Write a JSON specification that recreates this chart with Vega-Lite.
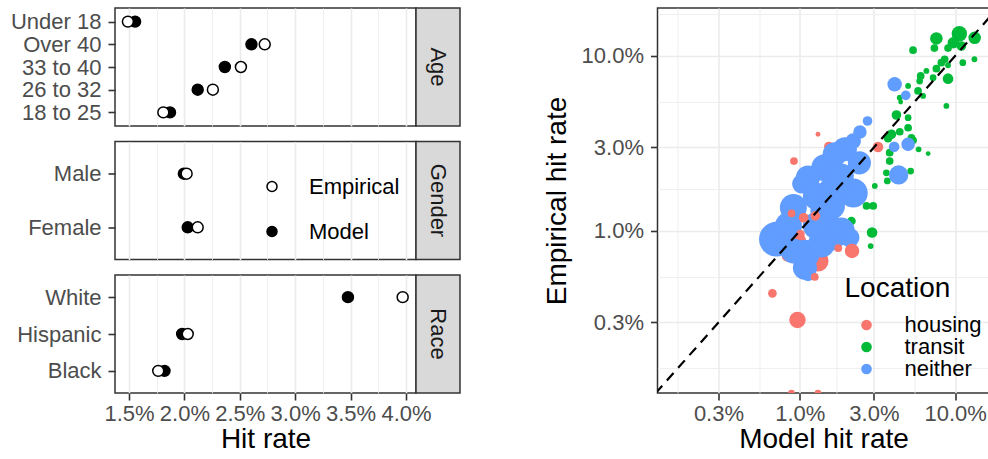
{
  "$schema": "https://vega.github.io/schema/vega-lite/v6.json",
  "background": "white",
  "padding": {"left": 0, "top": 7, "right": 0, "bottom": 0},
  "config": {
    "font": "Liberation Sans",
    "view": {"stroke": "#333333", "strokeWidth": 1.5},
    "axis": {
      "labelFontSize": 22,
      "labelColor": "#4D4D4D",
      "titleFontSize": 28,
      "titleFontWeight": "normal",
      "titleColor": "black",
      "tickColor": "#333333",
      "tickWidth": 1.6,
      "tickSize": 7,
      "gridColor": "#EBEBEB",
      "domain": false,
      "labelFlush": false,
      "labelOverlap": false
    },
    "legend": {
      "labelFontSize": 22,
      "labelColor": "black",
      "titleFontSize": 28,
      "titleFontWeight": "normal",
      "titleColor": "black",
      "padding": 0
    }
  },
  "datasets": {
    "demog": [
      {"group": "Age", "category": "Under 18", "type": "Model", "rate": 0.01555},
      {"group": "Age", "category": "Over 40", "type": "Model", "rate": 0.02605},
      {"group": "Age", "category": "33 to 40", "type": "Model", "rate": 0.02365},
      {"group": "Age", "category": "26 to 32", "type": "Model", "rate": 0.0212},
      {"group": "Age", "category": "18 to 25", "type": "Model", "rate": 0.0187},
      {"group": "Gender", "category": "Male", "type": "Model", "rate": 0.01995},
      {"group": "Gender", "category": "Female", "type": "Model", "rate": 0.0203},
      {"group": "Race", "category": "White", "type": "Model", "rate": 0.03476},
      {"group": "Race", "category": "Hispanic", "type": "Model", "rate": 0.0198},
      {"group": "Race", "category": "Black", "type": "Model", "rate": 0.0182},
      {"group": "Age", "category": "Under 18", "type": "Empirical", "rate": 0.0149},
      {"group": "Age", "category": "Over 40", "type": "Empirical", "rate": 0.02725},
      {"group": "Age", "category": "33 to 40", "type": "Empirical", "rate": 0.0251},
      {"group": "Age", "category": "26 to 32", "type": "Empirical", "rate": 0.02257},
      {"group": "Age", "category": "18 to 25", "type": "Empirical", "rate": 0.0181},
      {"group": "Gender", "category": "Male", "type": "Empirical", "rate": 0.0202},
      {"group": "Gender", "category": "Female", "type": "Empirical", "rate": 0.0212},
      {"group": "Race", "category": "White", "type": "Empirical", "rate": 0.0397},
      {"group": "Race", "category": "Hispanic", "type": "Empirical", "rate": 0.0203},
      {"group": "Race", "category": "Black", "type": "Empirical", "rate": 0.01764}
    ],
    "precincts": [
      {"location": "transit", "model": 0.1064, "empirical": 0.134, "stops": 256},
      {"location": "transit", "model": 0.1335, "empirical": 0.127, "stops": 169},
      {"location": "transit", "model": 0.0973, "empirical": 0.119, "stops": 144},
      {"location": "transit", "model": 0.1096, "empirical": 0.114, "stops": 100},
      {"location": "transit", "model": 0.0757, "empirical": 0.126, "stops": 169},
      {"location": "transit", "model": 0.0735, "empirical": 0.111, "stops": 64},
      {"location": "transit", "model": 0.0536, "empirical": 0.108, "stops": 64},
      {"location": "transit", "model": 0.090, "empirical": 0.111, "stops": 64},
      {"location": "transit", "model": 0.133, "empirical": 0.0958, "stops": 36},
      {"location": "transit", "model": 0.112, "empirical": 0.0916, "stops": 49},
      {"location": "transit", "model": 0.0856, "empirical": 0.0958, "stops": 64},
      {"location": "transit", "model": 0.0815, "empirical": 0.0916, "stops": 64},
      {"location": "transit", "model": 0.090, "empirical": 0.0885, "stops": 36},
      {"location": "transit", "model": 0.0757, "empirical": 0.0846, "stops": 64},
      {"location": "transit", "model": 0.0653, "empirical": 0.0821, "stops": 36},
      {"location": "transit", "model": 0.0721, "empirical": 0.0752, "stops": 49},
      {"location": "transit", "model": 0.090, "empirical": 0.0742, "stops": 121},
      {"location": "transit", "model": 0.060, "empirical": 0.0769, "stops": 64},
      {"location": "transit", "model": 0.0591, "empirical": 0.0719, "stops": 49},
      {"location": "transit", "model": 0.0498, "empirical": 0.0674, "stops": 36},
      {"location": "transit", "model": 0.0577, "empirical": 0.0631, "stops": 64},
      {"location": "transit", "model": 0.0622, "empirical": 0.0591, "stops": 36},
      {"location": "transit", "model": 0.044, "empirical": 0.0578, "stops": 36},
      {"location": "transit", "model": 0.0878, "empirical": 0.0518, "stops": 36},
      {"location": "transit", "model": 0.0419, "empirical": 0.046, "stops": 100},
      {"location": "transit", "model": 0.0446, "empirical": 0.0546, "stops": 25},
      {"location": "transit", "model": 0.0498, "empirical": 0.0444, "stops": 49},
      {"location": "transit", "model": 0.0498, "empirical": 0.0389, "stops": 64},
      {"location": "transit", "model": 0.044, "empirical": 0.0369, "stops": 64},
      {"location": "transit", "model": 0.0389, "empirical": 0.0357, "stops": 100},
      {"location": "transit", "model": 0.037, "empirical": 0.0339, "stops": 81},
      {"location": "transit", "model": 0.0523, "empirical": 0.0341, "stops": 64},
      {"location": "transit", "model": 0.0486, "empirical": 0.0309, "stops": 64},
      {"location": "transit", "model": 0.0536, "empirical": 0.033, "stops": 64},
      {"location": "transit", "model": 0.0582, "empirical": 0.0293, "stops": 36},
      {"location": "transit", "model": 0.067, "empirical": 0.0277, "stops": 25},
      {"location": "transit", "model": 0.0379, "empirical": 0.028, "stops": 64},
      {"location": "transit", "model": 0.0379, "empirical": 0.0251, "stops": 64},
      {"location": "transit", "model": 0.0517, "empirical": 0.022, "stops": 49},
      {"location": "transit", "model": 0.0361, "empirical": 0.0215, "stops": 49},
      {"location": "transit", "model": 0.0366, "empirical": 0.0193, "stops": 49},
      {"location": "transit", "model": 0.0304, "empirical": 0.0181, "stops": 36},
      {"location": "transit", "model": 0.0269, "empirical": 0.0139, "stops": 64},
      {"location": "transit", "model": 0.0297, "empirical": 0.0139, "stops": 64},
      {"location": "transit", "model": 0.0292, "empirical": 0.0098, "stops": 121},
      {"location": "transit", "model": 0.0286, "empirical": 0.0082, "stops": 36},
      {"location": "transit", "model": 0.0215, "empirical": 0.0114, "stops": 81},
      {"location": "housing", "model": 0.0154, "empirical": 0.0304, "stops": 100},
      {"location": "housing", "model": 0.0131, "empirical": 0.00674, "stops": 484},
      {"location": "housing", "model": 0.00834, "empirical": 0.0072, "stops": 144},
      {"location": "housing", "model": 0.00981, "empirical": 0.00877, "stops": 256},
      {"location": "neither", "model": 0.0408, "empirical": 0.0689, "stops": 225},
      {"location": "neither", "model": 0.0481, "empirical": 0.0596, "stops": 100},
      {"location": "neither", "model": 0.0273, "empirical": 0.0425, "stops": 100},
      {"location": "neither", "model": 0.0405, "empirical": 0.0303, "stops": 121},
      {"location": "neither", "model": 0.0498, "empirical": 0.0313, "stops": 196},
      {"location": "neither", "model": 0.0433, "empirical": 0.0209, "stops": 400},
      {"location": "neither", "model": 0.0244, "empirical": 0.0368, "stops": 196},
      {"location": "neither", "model": 0.0221, "empirical": 0.0327, "stops": 256},
      {"location": "neither", "model": 0.0195, "empirical": 0.0293, "stops": 625},
      {"location": "neither", "model": 0.0242, "empirical": 0.0245, "stops": 576},
      {"location": "neither", "model": 0.0145, "empirical": 0.023, "stops": 784},
      {"location": "neither", "model": 0.0113, "empirical": 0.0202, "stops": 625},
      {"location": "neither", "model": 0.0103, "empirical": 0.0186, "stops": 400},
      {"location": "neither", "model": 0.0221, "empirical": 0.0165, "stops": 900},
      {"location": "neither", "model": 0.0091, "empirical": 0.0136, "stops": 784},
      {"location": "neither", "model": 0.0145, "empirical": 0.013, "stops": 900},
      {"location": "neither", "model": 0.0185, "empirical": 0.010, "stops": 784},
      {"location": "neither", "model": 0.00708, "empirical": 0.00897, "stops": 1296},
      {"location": "neither", "model": 0.0108, "empirical": 0.00736, "stops": 900},
      {"location": "neither", "model": 0.0108, "empirical": 0.00617, "stops": 625},
      {"location": "neither", "model": 0.016, "empirical": 0.00936, "stops": 900},
      {"location": "neither", "model": 0.0113, "empirical": 0.00568, "stops": 225},
      {"location": "neither", "model": 0.0128, "empirical": 0.0158, "stops": 784},
      {"location": "neither", "model": 0.0172, "empirical": 0.0206, "stops": 676},
      {"location": "neither", "model": 0.00846, "empirical": 0.0107, "stops": 784},
      {"location": "neither", "model": 0.0138, "empirical": 0.00843, "stops": 784},
      {"location": "neither", "model": 0.021, "empirical": 0.00916, "stops": 400},
      {"location": "neither", "model": 0.0168, "empirical": 0.0274, "stops": 625},
      {"location": "neither", "model": 0.016, "empirical": 0.0169, "stops": 784},
      {"location": "neither", "model": 0.0185, "empirical": 0.0206, "stops": 676},
      {"location": "neither", "model": 0.0128, "empirical": 0.0107, "stops": 784},
      {"location": "neither", "model": 0.016, "empirical": 0.0139, "stops": 784},
      {"location": "neither", "model": 0.0091, "empirical": 0.00769, "stops": 676},
      {"location": "housing", "model": 0.0131, "empirical": 0.0357, "stops": 25},
      {"location": "housing", "model": 0.00918, "empirical": 0.0251, "stops": 64},
      {"location": "housing", "model": 0.0319, "empirical": 0.0302, "stops": 121},
      {"location": "housing", "model": 0.00885, "empirical": 0.0126, "stops": 64},
      {"location": "housing", "model": 0.0106, "empirical": 0.0119, "stops": 100},
      {"location": "housing", "model": 0.0126, "empirical": 0.0122, "stops": 100},
      {"location": "housing", "model": 0.0101, "empirical": 0.00961, "stops": 81},
      {"location": "housing", "model": 0.0177, "empirical": 0.00797, "stops": 64},
      {"location": "housing", "model": 0.0217, "empirical": 0.00769, "stops": 225},
      {"location": "housing", "model": 0.0125, "empirical": 0.00546, "stops": 64},
      {"location": "housing", "model": 0.00667, "empirical": 0.0044, "stops": 81},
      {"location": "housing", "model": 0.00967, "empirical": 0.0031, "stops": 289},
      {"location": "housing", "model": 0.00885, "empirical": 0.001186, "stops": 49},
      {"location": "housing", "model": 0.0131, "empirical": 0.001186, "stops": 49}
    ],
    "diagonal": [{"v": 0.001}, {"v": 0.2}]
  },
  "hconcat": [
    {
      "vconcat": [
        {
          "hconcat": [
            {
              "width": 301,
              "height": 118,
              "data": {"name": "demog"},
              "transform": [{"filter": "datum.group === 'Age'"}],
              "mark": {"type": "point", "filled": true, "size": 120, "stroke": "black", "strokeWidth": 1.5, "opacity": 1},
              "encoding": {
                "x": {
                  "field": "rate", "type": "quantitative",
                  "scale": {"domain": [0.013736, 0.040903], "nice": false, "zero": false},
                  "axis": {
                    "title": null, "labels": false, "ticks": false,
                    "values": [0.015, 0.0175, 0.02, 0.0225, 0.025, 0.0275, 0.03, 0.0325, 0.035, 0.0375, 0.04],
                    "gridWidth": {"condition": {"test": "abs(datum.value*200 - round(datum.value*200)) < 0.01", "value": 1.6}, "value": 0.8}
                  }
                },
                "y": {
                  "field": "category", "type": "nominal",
                  "scale": {"type": "point", "padding": 0.6, "domain": ["Under 18", "Over 40", "33 to 40", "26 to 32", "18 to 25"]},
                  "axis": {"title": null, "minExtent": 114, "maxExtent": 114, "labelPadding": 7, "gridWidth": 1.6}
                },
                "fill": {
                  "field": "type", "type": "nominal",
                  "scale": {"domain": ["Empirical", "Model"], "range": ["white", "black"]},
                  "legend": null
                }
              }
            },
            {
              "width": 44,
              "height": 118,
              "view": {"fill": "#D9D9D9", "stroke": "#333333", "strokeWidth": 1.5},
              "data": {"values": [{"label": "Age"}]},
              "mark": {"type": "text", "angle": 90, "fontSize": 22, "color": "#1A1A1A"},
              "encoding": {"text": {"field": "label", "type": "nominal"}}
            }
          ],
          "spacing": 0,
          "bounds": "flush",
          "resolve": {"scale": {"fill": "independent"}, "legend": {"fill": "independent"}}
        },
        {
          "hconcat": [
            {
              "width": 301,
              "height": 118,
              "data": {"name": "demog"},
              "transform": [{"filter": "datum.group === 'Gender'"}],
              "mark": {"type": "point", "filled": true, "size": 120, "stroke": "black", "strokeWidth": 1.5, "opacity": 1},
              "encoding": {
                "x": {
                  "field": "rate", "type": "quantitative",
                  "scale": {"domain": [0.013736, 0.040903], "nice": false, "zero": false},
                  "axis": {
                    "title": null, "labels": false, "ticks": false,
                    "values": [0.015, 0.0175, 0.02, 0.0225, 0.025, 0.0275, 0.03, 0.0325, 0.035, 0.0375, 0.04],
                    "gridWidth": {"condition": {"test": "abs(datum.value*200 - round(datum.value*200)) < 0.01", "value": 1.6}, "value": 0.8}
                  }
                },
                "y": {
                  "field": "category", "type": "nominal",
                  "scale": {"type": "point", "padding": 0.6, "domain": ["Male", "Female"]},
                  "axis": {"title": null, "minExtent": 114, "maxExtent": 114, "labelPadding": 7, "gridWidth": 1.6}
                },
                "fill": {
                  "field": "type", "type": "nominal",
                  "scale": {"domain": ["Empirical", "Model"], "range": ["white", "black"]},
                  "legend": {
                    "title": null, "orient": "none", "legendX": 146, "legendY": 34,
                    "direction": "vertical",
                    "symbolType": "circle", "symbolSize": 100,
                    "symbolStrokeColor": "black", "symbolStrokeWidth": 1.5,
                    "labelOffset": 26, "rowPadding": 23
                  }
                }
              }
            },
            {
              "width": 44,
              "height": 118,
              "view": {"fill": "#D9D9D9", "stroke": "#333333", "strokeWidth": 1.5},
              "data": {"values": [{"label": "Gender"}]},
              "mark": {"type": "text", "angle": 90, "fontSize": 22, "color": "#1A1A1A"},
              "encoding": {"text": {"field": "label", "type": "nominal"}}
            }
          ],
          "spacing": 0,
          "bounds": "flush",
          "resolve": {"scale": {"fill": "independent"}, "legend": {"fill": "independent"}}
        },
        {
          "hconcat": [
            {
              "width": 301,
              "height": 118,
              "data": {"name": "demog"},
              "transform": [{"filter": "datum.group === 'Race'"}],
              "mark": {"type": "point", "filled": true, "size": 120, "stroke": "black", "strokeWidth": 1.5, "opacity": 1},
              "encoding": {
                "x": {
                  "field": "rate", "type": "quantitative",
                  "scale": {"domain": [0.013736, 0.040903], "nice": false, "zero": false},
                  "axis": {
                    "title": "Hit rate", "format": ".1%",
                    "values": [0.015, 0.0175, 0.02, 0.0225, 0.025, 0.0275, 0.03, 0.0325, 0.035, 0.0375, 0.04],
                    "labelExpr": "abs(datum.value*200 - round(datum.value*200)) < 0.01 ? datum.label : ''",
                    "labelPadding": 3, "titlePadding": 1,
                    "gridWidth": {"condition": {"test": "abs(datum.value*200 - round(datum.value*200)) < 0.01", "value": 1.6}, "value": 0.8},
                    "tickOpacity": {"condition": {"test": "abs(datum.value*200 - round(datum.value*200)) < 0.01", "value": 1}, "value": 0}
                  }
                },
                "y": {
                  "field": "category", "type": "nominal",
                  "scale": {"type": "point", "padding": 0.6, "domain": ["White", "Hispanic", "Black"]},
                  "axis": {"title": null, "minExtent": 114, "maxExtent": 114, "labelPadding": 7, "gridWidth": 1.6}
                },
                "fill": {
                  "field": "type", "type": "nominal",
                  "scale": {"domain": ["Empirical", "Model"], "range": ["white", "black"]},
                  "legend": null
                }
              }
            },
            {
              "width": 44,
              "height": 118,
              "view": {"fill": "#D9D9D9", "stroke": "#333333", "strokeWidth": 1.5},
              "data": {"values": [{"label": "Race"}]},
              "mark": {"type": "text", "angle": 90, "fontSize": 22, "color": "#1A1A1A"},
              "encoding": {"text": {"field": "label", "type": "nominal"}}
            }
          ],
          "spacing": 0,
          "bounds": "flush",
          "resolve": {"scale": {"fill": "independent"}, "legend": {"fill": "independent"}}
        }
      ],
      "spacing": 13.5,
      "resolve": {"scale": {"fill": "independent"}, "legend": {"fill": "independent"}}
    },
    {
      "width": 332,
      "height": 385,
      "layer": [
        {
          "data": {"name": "precincts"},
          "mark": {"type": "point", "filled": true, "opacity": 1, "strokeWidth": 0, "clip": true},
          "encoding": {
            "x": {
              "field": "model", "type": "quantitative", "title": "Model hit rate",
              "scale": {"type": "log", "domain": [0.001216, 0.1663], "nice": false},
              "axis": {
                "format": ".1%",
                "values": [0.00164, 0.003, 0.00548, 0.01, 0.01732, 0.03, 0.05477, 0.1],
                "labelExpr": "indexof([0.003, 0.01, 0.03, 0.1], datum.value) >= 0 ? datum.label : ''",
                "labelFontSize": {"condition": {"test": "indexof([0.003, 0.01, 0.03, 0.1], datum.value) >= 0", "value": 22}, "value": 0},
                "labelPadding": 3, "titlePadding": 1,
                "gridWidth": {"condition": {"test": "indexof([0.003, 0.01, 0.03, 0.1], datum.value) >= 0", "value": 1.6}, "value": 0.8},
                "tickOpacity": {"condition": {"test": "indexof([0.003, 0.01, 0.03, 0.1], datum.value) >= 0", "value": 1}, "value": 0}
              }
            },
            "y": {
              "field": "empirical", "type": "quantitative", "title": "Empirical hit rate",
              "scale": {"type": "log", "domain": [0.001186, 0.188], "nice": false},
              "axis": {
                "format": ".1%",
                "values": [0.00164, 0.003, 0.00548, 0.01, 0.01732, 0.03, 0.05477, 0.1, 0.1732],
                "labelExpr": "indexof([0.003, 0.01, 0.03, 0.1], datum.value) >= 0 ? datum.label : ''",
                "labelFontSize": {"condition": {"test": "indexof([0.003, 0.01, 0.03, 0.1], datum.value) >= 0", "value": 22}, "value": 0},
                "labelPadding": 7, "titlePadding": 10, "minExtent": 76, "maxExtent": 76,
                "gridWidth": {"condition": {"test": "indexof([0.003, 0.01, 0.03, 0.1], datum.value) >= 0", "value": 1.6}, "value": 0.8},
                "tickOpacity": {"condition": {"test": "indexof([0.003, 0.01, 0.03, 0.1], datum.value) >= 0", "value": 1}, "value": 0}
              }
            },
            "color": {
              "field": "location", "type": "nominal", "title": "Location",
              "scale": {"domain": ["housing", "transit", "neither"], "range": ["#F8766D", "#00BA38", "#619CFF"]},
              "legend": {
                "orient": "none", "legendX": 187, "legendY": 267,
                "symbolType": "circle", "symbolSize": 113, "symbolOpacity": 1,
                "symbolOffset": 11, "labelOffset": 27, "titlePadding": 11, "rowPadding": 0
              }
            },
            "size": {
              "field": "stops", "type": "quantitative",
              "scale": {"domain": [0, 1000], "range": [0, 930]},
              "legend": null
            }
          }
        },
        {
          "data": {"name": "diagonal"},
          "mark": {"type": "line", "clip": true, "color": "black", "strokeWidth": 2.2, "strokeDash": [10, 7]},
          "encoding": {
            "x": {"field": "v", "type": "quantitative", "title": "Model hit rate"},
            "y": {"field": "v", "type": "quantitative", "title": "Empirical hit rate"}
          }
        }
      ]
    }
  ],
  "spacing": 81.5,
  "resolve": {
    "scale": {"fill": "independent", "color": "independent", "size": "independent"},
    "legend": {"fill": "independent", "color": "independent", "size": "independent"}
  }
}
